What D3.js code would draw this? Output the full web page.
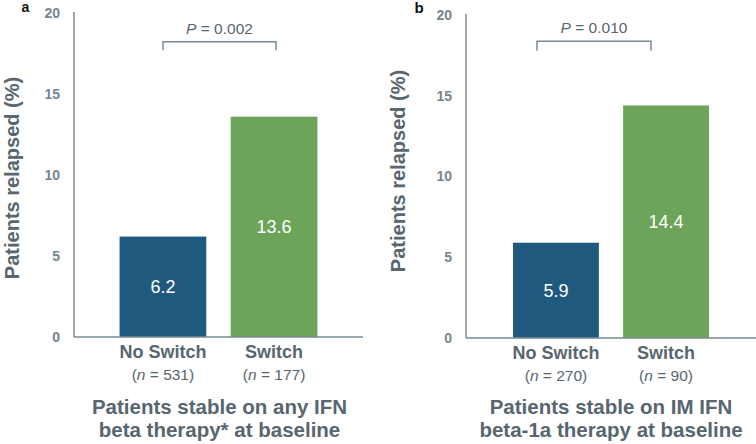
<!DOCTYPE html>
<html><head><meta charset="utf-8">
<script src="https://cdn.jsdelivr.net/npm/d3@7"></script>
<style>
html,body{margin:0;padding:0;background:#fff;}
svg{display:block;font-family:"Liberation Sans",Arial,sans-serif;}
</style></head>
<body>
<svg id="chart" width="756" height="444"></svg>
<script>
// ---- data ----
const categories = ["No Switch", "Switch"];
const valuesA = [6.2, 13.6];
const valuesB = [5.9, 14.4];
const nLabelsA = ["531", "177"];
const nLabelsB = ["270", "90"];
const yTicks = [0, 5, 10, 15, 20];
const pValueA = "0.002";
const pValueB = "0.010";
const titleA = ["Patients stable on any IFN", "beta therapy* at baseline"];
const titleB = ["Patients stable on IM IFN", "beta-1a therapy at baseline"];
const panelLabels = ["a", "b"];
const yTitle = "Patients relapsed (%)";

const colors = ["#1f5a7e", "#6ca45a"];
const axisColor = "#7a8a93";
const tickColor = "#76858d";
const textColor = "#57666f";

const svg = d3.select("#chart");

function panel(cfg) {
  const g = svg.append("g");
  const x = d3.scaleBand().domain(categories).range([cfg.x0, cfg.x1])
    .paddingInner(0.22).paddingOuter(cfg.outer);
  const y = d3.scaleLinear().domain([0, 20]).range([cfg.yBase, cfg.yTop]);

  // bars
  g.selectAll("rect.bar").data(cfg.values).join("rect")
    .attr("x", (d, i) => x(categories[i]))
    .attr("width", x.bandwidth())
    .attr("y", d => y(d))
    .attr("height", d => y(0) - y(d))
    .attr("fill", (d, i) => colors[i]);

  // value labels
  g.selectAll("text.val").data(cfg.values).join("text")
    .attr("x", (d, i) => x(categories[i]) + x.bandwidth() / 2)
    .attr("y", d => (y(d) + y(0)) / 2 + 6.5)
    .attr("text-anchor", "middle")
    .attr("fill", "#fff")
    .attr("font-size", 18)
    .text(d => d.toFixed(1));

  // y axis
  const yAxis = d3.axisLeft(y).tickValues(yTicks).tickSize(0).tickPadding(14);
  const ya = g.append("g").attr("transform", `translate(${cfg.x0},0)`).call(yAxis);
  ya.select(".domain").attr("stroke", axisColor).attr("stroke-width", 1.5)
    .attr("d", `M0,${cfg.yTop - 1}V${cfg.yBase}`);
  ya.selectAll(".tick text").attr("fill", tickColor).attr("font-size", 14)
    .attr("font-weight", "bold").attr("font-family", "Liberation Sans, Arial, sans-serif");

  // x baseline
  const xAxis = d3.axisBottom(x).tickSize(0).tickFormat("");
  const xa = g.append("g").attr("transform", `translate(0,${cfg.yBase})`).call(xAxis);
  xa.select(".domain").attr("stroke", axisColor).attr("stroke-width", 1.5)
    .attr("d", `M${cfg.x0},0H${cfg.x1}`);

  // category labels
  categories.forEach((c, i) => {
    const cx = x(c) + x.bandwidth() / 2;
    g.append("text").attr("x", cx).attr("y", cfg.yBase + 21)
      .attr("text-anchor", "middle").attr("font-size", 18).attr("font-weight", "bold")
      .attr("fill", textColor).text(c);
    const t = g.append("text").attr("x", cx).attr("y", cfg.yBase + 43)
      .attr("text-anchor", "middle").attr("font-size", 15.5).attr("fill", textColor);
    t.append("tspan").text("(");
    t.append("tspan").attr("font-style", "italic").text("n");
    t.append("tspan").text(" = " + cfg.n[i] + ")");
  });

  // title
  cfg.title.forEach((line, i) => {
    g.append("text").attr("x", cfg.titleX).attr("y", 414 + i * 23)
      .attr("text-anchor", "middle").attr("font-size", 20.5).attr("font-weight", "bold")
      .attr("fill", textColor).text(line);
  });

  // y title
  g.append("text")
    .attr("transform", `translate(${cfg.yTitleX},${cfg.yTitleY}) rotate(-90)`)
    .attr("text-anchor", "middle").attr("font-size", 20).attr("font-weight", "bold")
    .attr("fill", textColor).text(yTitle);

  // bracket (in data units)
  const bl = cfg.bracket[0], br = cfg.bracket[1];
  const bTop = y(cfg.bracketY[0]), bBot = y(cfg.bracketY[1]);
  g.append("path")
    .attr("d", `M${bl},${bBot}V${bTop}H${br}V${bBot}`)
    .attr("fill", "none").attr("stroke", axisColor).attr("stroke-width", 1.5);
  const pt = g.append("text").attr("x", (bl + br) / 2).attr("y", bTop - 8)
    .attr("text-anchor", "middle").attr("font-size", 15.5).attr("fill", textColor);
  pt.append("tspan").attr("font-style", "italic").text("P");
  pt.append("tspan").text(" = " + cfg.p);

  // panel letter
  g.append("text").attr("x", cfg.letterX).attr("y", cfg.letterY)
    .attr("font-size", cfg.letterSize).attr("font-weight", "bold").attr("fill", "#111")
    .text(cfg.letter);
  return x;
}

panel({x0: 74, x1: 363, outer: 0.41, yBase: 337, yTop: 13, values: valuesA, n: nLabelsA,
  title: titleA, titleX: 219.5, yTitleX: 18.5, yTitleY: 178, bracket: [163, 276],
  bracketY: [18.22, 17.7], p: pValueA,
  letter: panelLabels[0], letterX: 21.5, letterY: 11.5, letterSize: 14});
panel({x0: 466, x1: 756, outer: 0.427, yBase: 338, yTop: 15, values: valuesB, n: nLabelsB,
  title: titleB, titleX: 611, yTitleX: 405, yTitleY: 171, bracket: [537, 651],
  bracketY: [18.37, 17.8], p: pValueB,
  letter: panelLabels[1], letterX: 414.5, letterY: 13, letterSize: 15});
</script>
</body></html>
